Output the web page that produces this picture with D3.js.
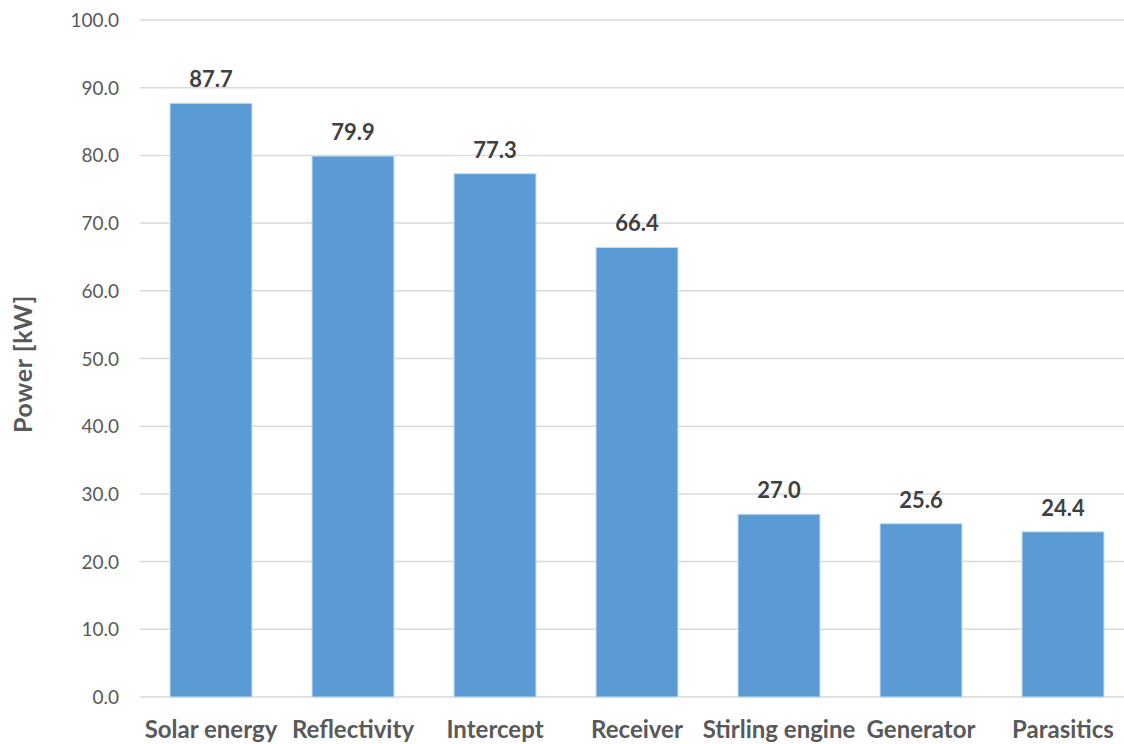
<!DOCTYPE html>
<html>
<head>
<meta charset="utf-8">
<script src="https://cdn.jsdelivr.net/npm/d3@7"></script>
<style>
  html, body { margin: 0; padding: 0; background: #ffffff; }
  svg { display: block; }
</style>
</head>
<body>
<svg id="chart" width="1124" height="744"></svg>
<script>
// Power remaining after each conversion stage
const categories = ["Solar energy", "Reflectivity", "Intercept", "Receiver", "Stirling engine", "Generator", "Parasitics"];
const values = [87.7, 79.9, 77.3, 66.4, 27.0, 25.6, 24.4];
const yTicks = [0, 10, 20, 30, 40, 50, 60, 70, 80, 90, 100];
const yTitle = "Power [kW]";

const svg = d3.select("#chart");
const font = "Lato, 'Open Sans', sans-serif";

const x = d3.scaleBand()
  .domain(categories)
  .range([140, 1134])
  .paddingInner(0.423)
  .paddingOuter(0.2115);

const y = d3.scaleLinear()
  .domain([0, 100])
  .range([697, 20]);

// horizontal gridlines (the zero line doubles as the category axis)
svg.append("g")
  .selectAll("line")
  .data(yTicks)
  .join("line")
  .attr("x1", 140)
  .attr("x2", 1134)
  .attr("y1", d => y(d))
  .attr("y2", d => y(d))
  .attr("stroke", "#d9d9d9")
  .attr("stroke-width", 1.5);

// value axis labels
svg.append("g")
  .selectAll("text")
  .data(yTicks)
  .join("text")
  .attr("x", 119)
  .attr("y", d => y(d))
  .attr("dy", "0.37em")
  .attr("text-anchor", "end")
  .attr("font-family", font)
  .attr("font-size", 19)
  .attr("fill", "#595959")
  .text(d => d3.format(".1f")(d));

// bars
svg.append("g")
  .selectAll("rect")
  .data(values)
  .join("rect")
  .attr("x", (d, i) => x(categories[i]))
  .attr("y", d => y(d))
  .attr("width", x.bandwidth())
  .attr("height", d => y(0) - y(d))
  .attr("fill", "#5b9bd5")
  .attr("stroke", "#c5dcf0")
  .attr("stroke-width", 1);

// value labels above bars
svg.append("g")
  .selectAll("text")
  .data(values)
  .join("text")
  .attr("x", (d, i) => x(categories[i]) + x.bandwidth() / 2)
  .attr("y", d => y(d) - 16)
  .attr("text-anchor", "middle")
  .attr("font-family", font)
  .attr("font-weight", "bold")
  .attr("font-size", 22)
  .attr("fill", "#404040")
  .text(d => d3.format(".1f")(d));

// category labels
svg.append("g")
  .selectAll("text")
  .data(categories)
  .join("text")
  .attr("x", d => x(d) + x.bandwidth() / 2)
  .attr("y", 738)
  .attr("text-anchor", "middle")
  .attr("font-family", font)
  .attr("font-weight", "bold")
  .attr("font-size", 24)
  .attr("fill", "#595959")
  .text(d => d);

// axis title
svg.append("text")
  .attr("transform", "translate(32,364) rotate(-90)")
  .attr("text-anchor", "middle")
  .attr("font-family", font)
  .attr("font-weight", "bold")
  .attr("font-size", 25)
  .attr("letter-spacing", 0.6)
  .attr("fill", "#595959")
  .text(yTitle);
</script>
</body>
</html>
